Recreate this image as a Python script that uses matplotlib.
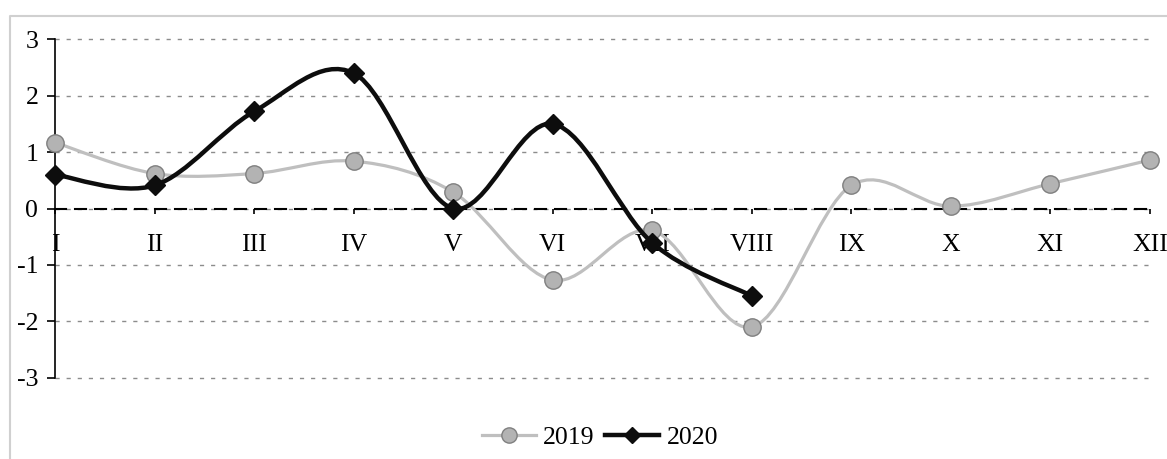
import matplotlib
matplotlib.use("Agg")
import matplotlib.pyplot as plt
import numpy as np
from matplotlib.path import Path
from matplotlib.patches import PathPatch
from matplotlib.lines import Line2D

plt.rcParams.update({
    "font.family": ["Liberation Serif", "DejaVu Serif"],
    "font.size": 18.5,
    "axes.unicode_minus": False,
})

# ---- Data ----
months = ["I", "II", "III", "IV", "V", "VI", "VII", "VIII", "IX", "X", "XI", "XII"]
values_2019 = [1.17, 0.62, 0.62, 0.84, 0.29, -1.27, -0.39, -2.10, 0.41, 0.04, 0.44, 0.86]
values_2020 = [0.60, 0.41, 1.72, 2.40, 0.00, 1.50, -0.61, -1.55]

C2019_LINE = "#BFBFBF"
C2019_FACE = "#B3B3B3"
C2019_EDGE = "#7F7F7F"
C2020 = "#0D0D0D"


def smooth_path(xs, ys):
    """Excel-like smoothed line: cubic Bezier through points (Catmull-Rom, 1/6)."""
    pts = np.column_stack([xs, ys]).astype(float)
    n = len(pts)
    verts = [pts[0]]
    codes = [Path.MOVETO]
    for i in range(n - 1):
        p0 = pts[i - 1] if i > 0 else pts[i]
        p1 = pts[i]
        p2 = pts[i + 1]
        p3 = pts[i + 2] if i + 2 < n else pts[i + 1]
        c1 = p1 + (p2 - p0) / 6.0
        c2 = p2 - (p3 - p1) / 6.0
        verts += [c1, c2, p2]
        codes += [Path.CURVE4] * 3
    return Path(verts, codes)


W, H = 1167, 459
fig = plt.figure(figsize=(W / 100, H / 100), dpi=100)
ax = fig.add_axes([55 / W, 1 - 377.7 / H, (1150 - 55) / W, (377.7 - 39.3) / H])

x19 = np.arange(len(values_2019))
x20 = np.arange(len(values_2020))

ax.add_patch(PathPatch(smooth_path(x19, values_2019), facecolor="none",
                       edgecolor=C2019_LINE, lw=2.3, zorder=3, clip_on=False))
ax.plot(x19, values_2019, ls="none", marker="o", ms=12.5, mfc=C2019_FACE,
        mec=C2019_EDGE, mew=1.0, zorder=4, clip_on=False)

ax.add_patch(PathPatch(smooth_path(x20, values_2020), facecolor="none",
                       edgecolor=C2020, lw=3.2, zorder=5, clip_on=False,
                       capstyle="round", joinstyle="round"))
ax.plot(x20, values_2020, ls="none", marker="D", ms=10, mfc=C2020,
        mec=C2020, zorder=6, clip_on=False)

ax.set_xlim(0, len(months) - 1)
ax.set_ylim(-3, 3)
ax.set_xticks(x19)
ax.set_xticklabels(months)
ax.set_yticks(range(-3, 4))
ax.set_yticklabels([str(v) for v in range(-3, 4)])

ax.yaxis.grid(True, color="#8C8C8C", lw=1.0, linestyle=(0, (3, 5)))
for gl in ax.yaxis.get_gridlines():
    gl.set_clip_on(False)
ax.set_axisbelow(True)

for s in ["top", "right"]:
    ax.spines[s].set_visible(False)
ax.spines["left"].set_linewidth(1.2)
ax.spines["left"].set_color("black")
ax.spines["bottom"].set_position(("data", 0))
ax.spines["bottom"].set_color("black")
ax.spines["bottom"].set_linewidth(1.5)
ax.spines["bottom"].set_linestyle((0, (5.3, 4.3)))
ax.spines["bottom"].set_zorder(2.5)

ax.tick_params(axis="y", direction="out", length=6, width=1.2, pad=6, colors="black")
ax.tick_params(axis="x", direction="out", length=3.6, width=1.2, pad=15, colors="black")

handles = [
    Line2D([], [], color=C2019_LINE, lw=2.3, marker="o", ms=11,
           mfc=C2019_FACE, mec=C2019_EDGE, mew=1.0),
    Line2D([], [], color=C2020, lw=3.2, marker="D", ms=8, mfc=C2020, mec=C2020),
]
fig.legend(handles, ["2019", "2020"], loc="center", ncol=2, frameon=False,
           bbox_to_anchor=(600 / W, 1 - 437.7 / H), handlelength=2.1,
           handletextpad=0.3, columnspacing=0.4, fontsize=18.5)

# light chart-area border (left and top edges visible)
fig.add_artist(Line2D([9.5 / W, 9.5 / W, 1.01], [-0.01, 1 - 16 / H, 1 - 16 / H],
                      transform=fig.transFigure, color="#D0D0D0", lw=1.5))

fig.savefig("out.png", dpi=100)
